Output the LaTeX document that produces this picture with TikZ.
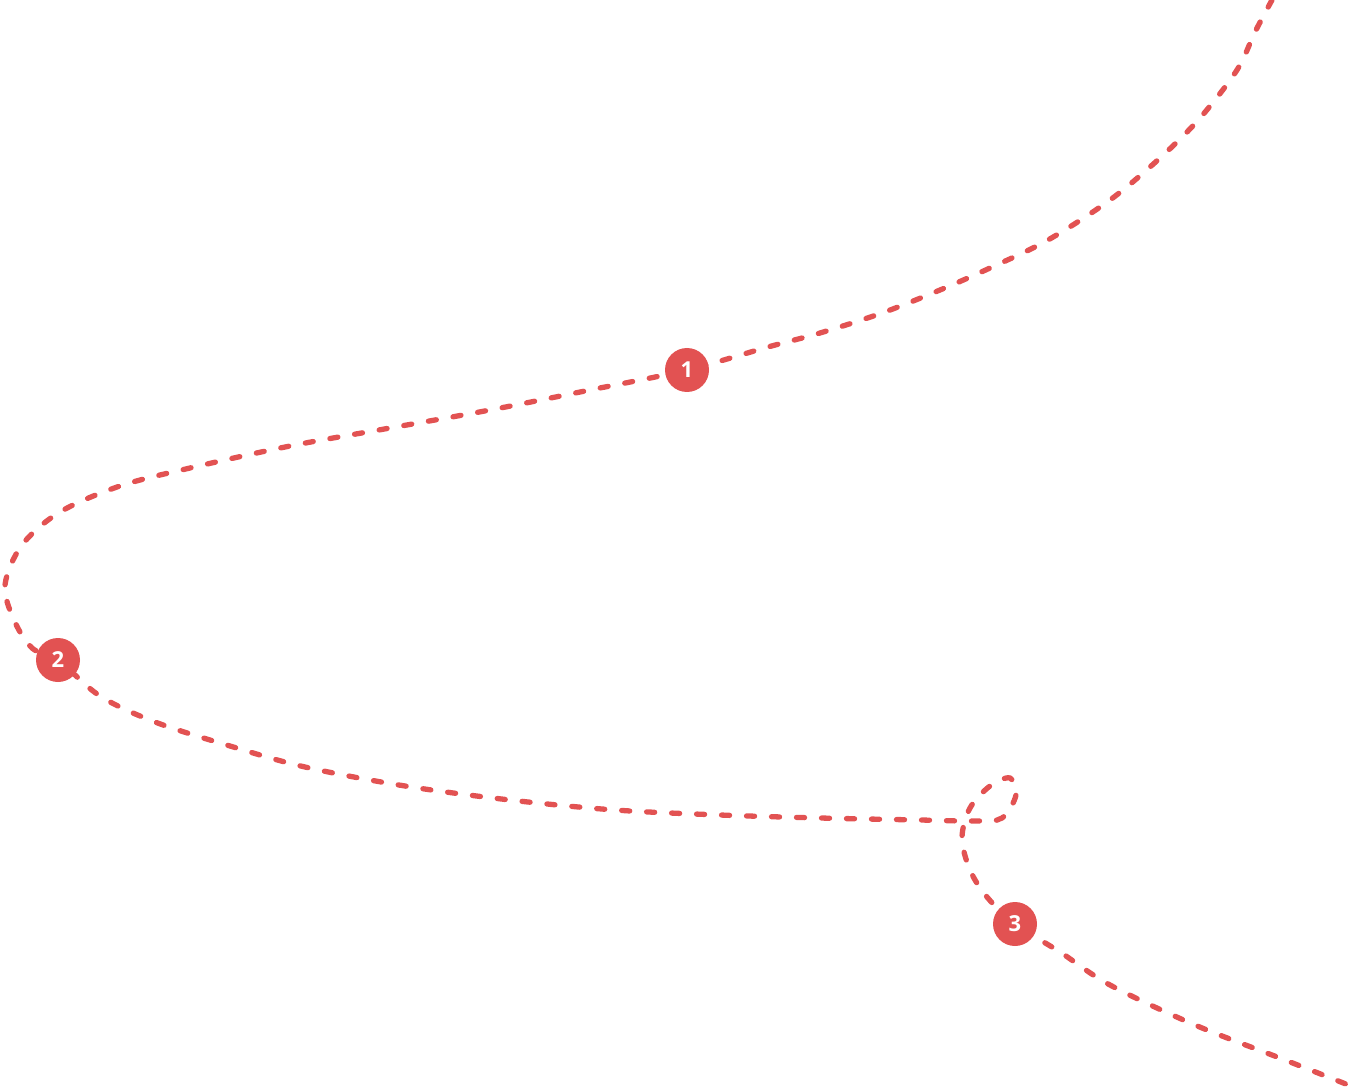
\documentclass[tikz,border=0pt]{standalone}
\usepackage{fontspec}
\setsansfont{Open Sans}
\definecolor{trail}{RGB}{226,82,82}
\newcommand{\markfont}{\sffamily\bfseries\fontsize{22}{22}\selectfont}
\begin{document}
\begin{tikzpicture}[x=1pt,y=-1pt,
  trailline/.style={draw=trail,line width=5.3pt,line cap=round,dash pattern=on 8pt off 17pt},
  marker/.style={circle,fill=trail,minimum size=44pt,inner sep=0pt,text=white}]
\useasboundingbox (0,0) rectangle (1361,1091);
\draw[trailline] plot[smooth,tension=0.55] coordinates {
 (1272,0) (1255,32) (1237,70) (1200,118) (1160,158) (1110,200) (1048,240) (990,268)
 (940,290) (882,313) (820,333) (768,347) (687,370) (590,390) (490,410) (390,428)
 (290,446) (190,468) (120,486) (60,512) (22,545) (5,585) (14,620) (32,648) (58,660)
 (100,696) (155,722) (230,746) (305,767) (405,786) (510,800) (615,810) (720,815)
 (820,818) (920,820) (975,821) (1002,818) (1016,795) (1010,778) (990,786) (970,808)
 (962,838) (970,870) (987,897) (1015,924) (1060,952) (1110,985) (1195,1025)
 (1285,1060) (1361,1090)};
\node[marker] (m1) at (687,370) {\markfont 1};
\node[marker] (m2) at (58,660) {\markfont 2};
\node[marker] (m3) at (1015,924) {\markfont 3};
\end{tikzpicture}
\end{document}
